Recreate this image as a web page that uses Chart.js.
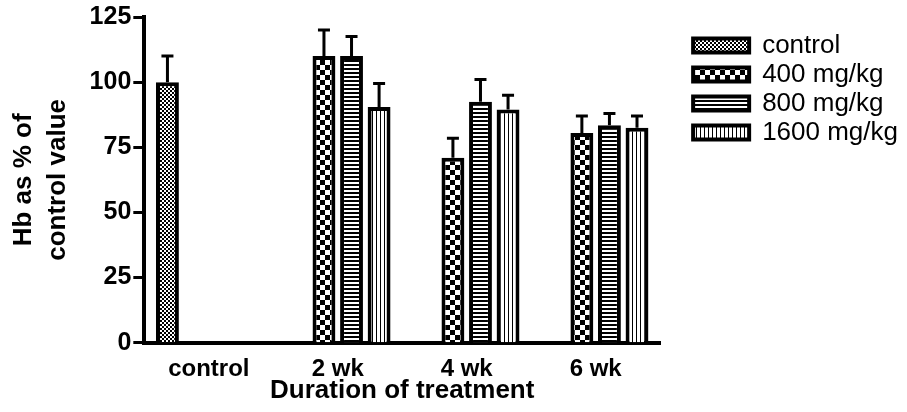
<!DOCTYPE html>
<html lang="en">
<head>
<meta charset="UTF-8" />
<title>Hb as % of control value</title>
<script src="https://cdn.jsdelivr.net/npm/chart.js"></script>
<style>
  body { margin: 0; background: #fff; }
  #wrap { width: 907px; height: 412px; }
</style>
</head>
<body>
<div id="wrap"><canvas id="hbChart" width="907" height="412"></canvas></div>
<script>
  // categories and series
  const categories = ['control', '2 wk', '4 wk', '6 wk'];
  const seriesNames = ['control', '400 mg/kg', '800 mg/kg', '1600 mg/kg'];

  const controlValues = [100, null, null, null];
  const dose400Values = [null, 110, 71, 80.5];
  const dose800Values = [null, 110, 92.5, 83.5];
  const dose1600Values = [null, 90.5, 89.5, 82.5];

  // upper error (SEM) for each bar
  const controlErr = [10, null, null, null];
  const dose400Err = [null, 10, 7.5, 6.5];
  const dose800Err = [null, 7.5, 8.5, 4.5];
  const dose1600Err = [null, 9, 5.5, 4.5];

  const yTicks = { min: 0, max: 125, step: 25 };

  function makePattern(kind) {
    const c = document.createElement('canvas');
    const g = c.getContext('2d');
    if (kind === 'fine') {
      c.width = 4; c.height = 4;
      g.fillStyle = '#fff'; g.fillRect(0, 0, 4, 4);
      g.fillStyle = '#000';
      g.fillRect(0, 0, 2, 2); g.fillRect(2, 2, 2, 2);
    } else if (kind === 'checker') {
      c.width = 10; c.height = 10;
      g.fillStyle = '#fff'; g.fillRect(0, 0, 10, 10);
      g.fillStyle = '#000';
      g.fillRect(0, 0, 5, 5); g.fillRect(5, 5, 5, 5);
    } else if (kind === 'horiz') {
      c.width = 4; c.height = 4;
      g.fillStyle = '#fff'; g.fillRect(0, 0, 4, 4);
      g.fillStyle = '#000'; g.fillRect(0, 0, 4, 2);
    } else {
      c.width = 4; c.height = 4;
      g.fillStyle = '#fff'; g.fillRect(0, 0, 4, 4);
      g.fillStyle = '#000'; g.fillRect(0, 0, 1, 4);
    }
    return g.createPattern(c, 'repeat');
  }

  // upper whiskers with a cap
  const errorBars = {
    id: 'errorBars',
    afterDatasetsDraw(chart) {
      const ctx = chart.ctx;
      const yScale = chart.scales.y;
      chart.data.datasets.forEach((ds, i) => {
        const meta = chart.getDatasetMeta(i);
        meta.data.forEach((bar, j) => {
          const v = ds.data[j];
          const e = ds.errors[j];
          if (v == null || e == null) return;
          const top = yScale.getPixelForValue(v + e);
          ctx.save();
          ctx.strokeStyle = '#000';
          ctx.lineWidth = 3;
          ctx.beginPath();
          ctx.moveTo(bar.x, bar.y);
          ctx.lineTo(bar.x, top);
          ctx.moveTo(bar.x - 6, top);
          ctx.lineTo(bar.x + 6, top);
          ctx.stroke();
          ctx.restore();
        });
      });
    }
  };

  // leave a gap between the plot and the legend
  const legendShift = {
    id: 'legendShift',
    afterLayout(chart) {
      if (chart.legend) {
        chart.legend.left += 30;
        chart.legend.right += 30;
      }
    }
  };

  Chart.defaults.font.family = '"Liberation Sans", Arial, sans-serif';
  Chart.defaults.color = '#000';

  function barSet(label, data, errors, pattern) {
    return {
      label: label,
      data: data,
      errors: errors,
      backgroundColor: makePattern(pattern),
      borderColor: '#000',
      borderWidth: 4,
      categoryPercentage: 0.855,
      barPercentage: 0.83
    };
  }

  new Chart(document.getElementById('hbChart'), {
    type: 'bar',
    data: {
      labels: categories,
      datasets: [
        barSet(seriesNames[0], controlValues, controlErr, 'fine'),
        barSet(seriesNames[1], dose400Values, dose400Err, 'checker'),
        barSet(seriesNames[2], dose800Values, dose800Err, 'horiz'),
        barSet(seriesNames[3], dose1600Values, dose1600Err, 'vert')
      ]
    },
    options: {
      responsive: false,
      animation: false,
      layout: { padding: { left: 0, top: 16, right: 29, bottom: 10 } },
      plugins: {
        tooltip: { enabled: false },
        legend: {
          position: 'right',
          align: 'start',
          title: { display: true, text: '', padding: 2, font: { size: 8 } },
          labels: {
            boxWidth: 56,
            boxHeight: 14,
            padding: 3,
            color: '#000',
            font: { size: 26 }
          }
        }
      },
      scales: {
        x: {
          grid: { display: false, drawTicks: false },
          border: { display: true, width: 4, color: '#000' },
          ticks: { color: '#000', padding: 17, font: { size: 24, weight: 'bold', lineHeight: 0.8 } },
          title: {
            display: true,
            text: 'Duration of treatment',
            color: '#000',
            padding: { top: -16, bottom: 0 },
            font: { size: 26, weight: 'bold', lineHeight: 0.85 }
          }
        },
        y: {
          min: yTicks.min,
          max: yTicks.max,
          ticks: { stepSize: yTicks.step, color: '#000', padding: 2, font: { size: 25, weight: 'bold' } },
          grid: { drawOnChartArea: false, drawTicks: true, tickLength: 11, tickWidth: 3, tickColor: '#000' },
          border: { display: true, width: 4, color: '#000' },
          title: {
            display: true,
            text: ['Hb as % of', 'control value'],
            color: '#000',
            padding: { top: 7, bottom: 13 },
            font: { size: 26, weight: 'bold', lineHeight: 1.3 }
          }
        }
      }
    },
    plugins: [errorBars, legendShift]
  });
</script>
</body>
</html>
